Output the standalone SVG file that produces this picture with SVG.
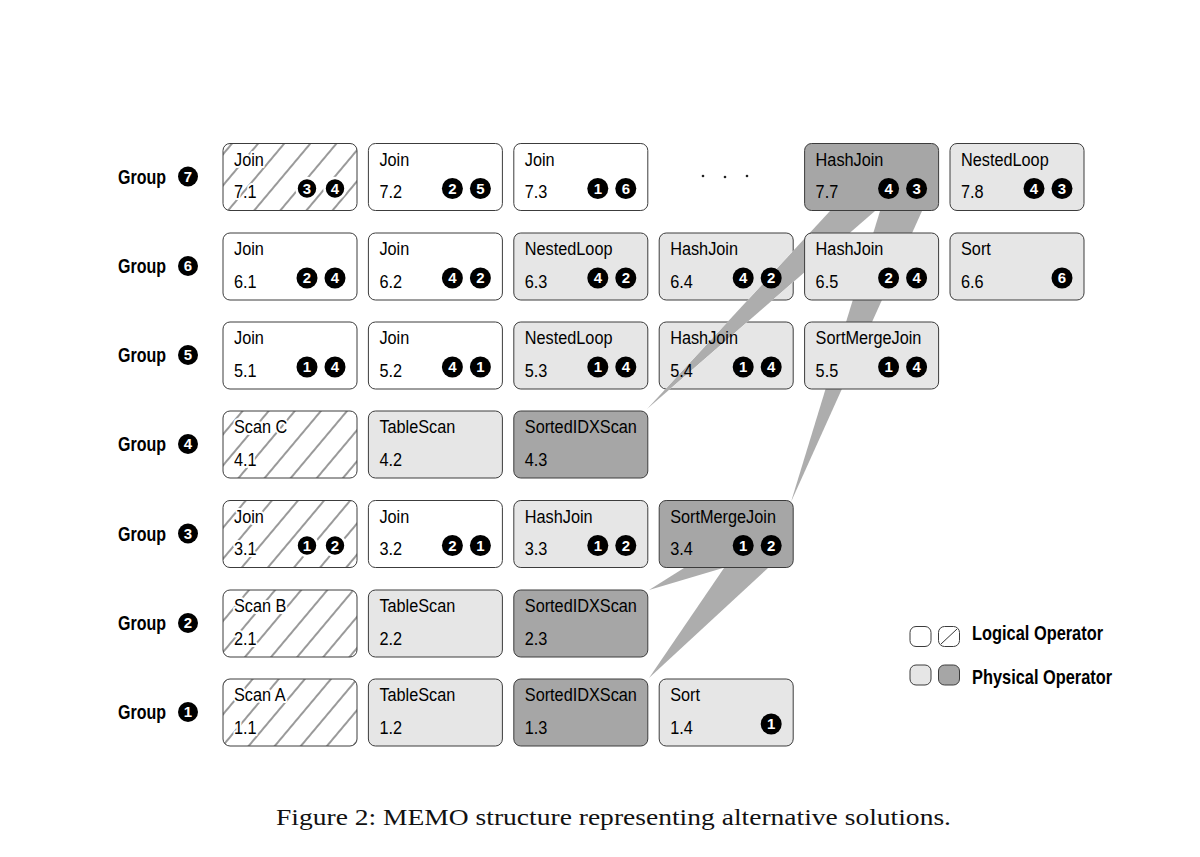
<svg xmlns="http://www.w3.org/2000/svg" width="1200" height="857" viewBox="0 0 1200 857">
<style>
.box{stroke:#3c3c3c;stroke-width:1}
.w{fill:#fff}.l{fill:#e6e6e6}.d{fill:#a6a6a6}.h{fill:url(#hatch)}
.lbl{font-family:"Liberation Sans",Arial,sans-serif;font-size:18.5px;fill:#000}
.halo{stroke:#fff;stroke-width:4px;paint-order:stroke;stroke-linejoin:round}
.bd circle{fill:#000}
.hb circle{stroke:#fff;stroke-width:2.5px}
.bd text{font-family:"Liberation Sans",Arial,sans-serif;font-weight:bold;font-size:15px;fill:#fff;text-anchor:middle}
.grp{font-family:"Liberation Sans",Arial,sans-serif;font-weight:bold;font-size:20px;fill:#000}
.wedge{fill:#adadad}
.dot{fill:#222}
.cap{font-family:"Liberation Serif","Times New Roman",serif;font-size:24px;fill:#111}
</style>
<defs>
<pattern id="hatch" patternUnits="userSpaceOnUse" width="20" height="20" patternTransform="rotate(40)">
<rect width="20" height="20" fill="#fff"/>
<line x1="10" y1="0" x2="10" y2="20" stroke="#000" stroke-width="0.8"/>
</pattern>
<mask id="hole1" maskUnits="userSpaceOnUse" x="0" y="0" width="1200" height="857">
<rect width="1200" height="857" fill="#fff"/>
<polygon points="830,211 875,211 647,409" fill="#000"/>
</mask>
</defs>
<rect width="1200" height="857" fill="#fff"/>

<g id="connectors">
<polygon class="wedge" points="830,211 875,211 647,409"/>
<polygon class="wedge" points="880,211 922,211 791,502"/>
<polygon class="wedge" points="684,568 723,568 649,590"/>
<polygon class="wedge" points="724,568 768,568 649,678"/>
</g>

<g id="group-labels">
<g id="g7"><text class="grp" transform="translate(118,183.5) scale(0.8,1)">Group</text><g class="bd"><circle cx="188" cy="176.5" r="10"/><text x="188" y="181.5">7</text></g></g>
<g id="g6"><text class="grp" transform="translate(118,273) scale(0.8,1)">Group</text><g class="bd"><circle cx="188" cy="266" r="10"/><text x="188" y="271">6</text></g></g>
<g id="g5"><text class="grp" transform="translate(118,362) scale(0.8,1)">Group</text><g class="bd"><circle cx="188" cy="355" r="10"/><text x="188" y="360">5</text></g></g>
<g id="g4"><text class="grp" transform="translate(118,451) scale(0.8,1)">Group</text><g class="bd"><circle cx="188" cy="444" r="10"/><text x="188" y="449">4</text></g></g>
<g id="g3"><text class="grp" transform="translate(118,540.5) scale(0.8,1)">Group</text><g class="bd"><circle cx="188" cy="533.5" r="10"/><text x="188" y="538.5">3</text></g></g>
<g id="g2"><text class="grp" transform="translate(118,630) scale(0.8,1)">Group</text><g class="bd"><circle cx="188" cy="623" r="10"/><text x="188" y="628">2</text></g></g>
<g id="g1"><text class="grp" transform="translate(118,719) scale(0.8,1)">Group</text><g class="bd"><circle cx="188" cy="712" r="10"/><text x="188" y="717">1</text></g></g>
</g>

<!-- Row 7 -->
<g id="n7-1"><rect class="box h" x="223" y="143.5" width="134" height="67" rx="7"/><text class="lbl halo" transform="translate(234,165.5) scale(0.88,1)">Join</text><text class="lbl halo" transform="translate(234,198) scale(0.88,1)">7.1</text><g class="bd hb"><circle cx="307" cy="188.5" r="10.5"/><text x="307" y="193.8">3</text><circle cx="335" cy="188.5" r="10.5"/><text x="335" y="193.8">4</text></g></g>
<g id="n7-2"><rect class="box w" x="368.4" y="143.5" width="134" height="67" rx="7"/><text class="lbl" transform="translate(379.4,165.5) scale(0.88,1)">Join</text><text class="lbl" transform="translate(379.4,198) scale(0.88,1)">7.2</text><g class="bd"><circle cx="452.4" cy="188.5" r="10.5"/><text x="452.4" y="193.8">2</text><circle cx="480.4" cy="188.5" r="10.5"/><text x="480.4" y="193.8">5</text></g></g>
<g id="n7-3"><rect class="box w" x="513.8" y="143.5" width="134" height="67" rx="7"/><text class="lbl" transform="translate(524.8,165.5) scale(0.88,1)">Join</text><text class="lbl" transform="translate(524.8,198) scale(0.88,1)">7.3</text><g class="bd"><circle cx="597.8" cy="188.5" r="10.5"/><text x="597.8" y="193.8">1</text><circle cx="625.8" cy="188.5" r="10.5"/><text x="625.8" y="193.8">6</text></g></g>
<g id="ellipsis"><circle class="dot" cx="703" cy="176" r="1.3"/><circle class="dot" cx="725" cy="177" r="1.3"/><circle class="dot" cx="747" cy="176" r="1.3"/></g>
<g id="n7-7"><rect class="box d" x="804.6" y="143.5" width="134" height="67" rx="7"/><text class="lbl" transform="translate(815.6,165.5) scale(0.88,1)">HashJoin</text><text class="lbl" transform="translate(815.6,198) scale(0.88,1)">7.7</text><g class="bd"><circle cx="888.6" cy="188.5" r="10.5"/><text x="888.6" y="193.8">4</text><circle cx="916.6" cy="188.5" r="10.5"/><text x="916.6" y="193.8">3</text></g></g>
<g id="n7-8"><rect class="box l" x="950" y="143.5" width="134" height="67" rx="7"/><text class="lbl" transform="translate(961,165.5) scale(0.88,1)">NestedLoop</text><text class="lbl" transform="translate(961,198) scale(0.88,1)">7.8</text><g class="bd"><circle cx="1034" cy="188.5" r="10.5"/><text x="1034" y="193.8">4</text><circle cx="1062" cy="188.5" r="10.5"/><text x="1062" y="193.8">3</text></g></g>

<!-- Row 6 -->
<g id="n6-1"><rect class="box w" x="223" y="233" width="134" height="67" rx="7"/><text class="lbl" transform="translate(234,255) scale(0.88,1)">Join</text><text class="lbl" transform="translate(234,287.5) scale(0.88,1)">6.1</text><g class="bd"><circle cx="307" cy="278" r="10.5"/><text x="307" y="283.3">2</text><circle cx="335" cy="278" r="10.5"/><text x="335" y="283.3">4</text></g></g>
<g id="n6-2"><rect class="box w" x="368.4" y="233" width="134" height="67" rx="7"/><text class="lbl" transform="translate(379.4,255) scale(0.88,1)">Join</text><text class="lbl" transform="translate(379.4,287.5) scale(0.88,1)">6.2</text><g class="bd"><circle cx="452.4" cy="278" r="10.5"/><text x="452.4" y="283.3">4</text><circle cx="480.4" cy="278" r="10.5"/><text x="480.4" y="283.3">2</text></g></g>
<g id="n6-3"><rect class="box l" x="513.8" y="233" width="134" height="67" rx="7"/><text class="lbl" transform="translate(524.8,255) scale(0.88,1)">NestedLoop</text><text class="lbl" transform="translate(524.8,287.5) scale(0.88,1)">6.3</text><g class="bd"><circle cx="597.8" cy="278" r="10.5"/><text x="597.8" y="283.3">4</text><circle cx="625.8" cy="278" r="10.5"/><text x="625.8" y="283.3">2</text></g></g>
<g id="n6-4"><rect class="box l" x="659.2" y="233" width="134" height="67" rx="7" mask="url(#hole1)"/><text class="lbl" transform="translate(670.2,255) scale(0.88,1)">HashJoin</text><text class="lbl" transform="translate(670.2,287.5) scale(0.88,1)">6.4</text><g class="bd"><circle cx="743.2" cy="278" r="10.5"/><text x="743.2" y="283.3">4</text><circle cx="771.2" cy="278" r="10.5"/><text x="771.2" y="283.3">2</text></g></g>
<g id="n6-5"><rect class="box l" x="804.6" y="233" width="134" height="67" rx="7"/><text class="lbl" transform="translate(815.6,255) scale(0.88,1)">HashJoin</text><text class="lbl" transform="translate(815.6,287.5) scale(0.88,1)">6.5</text><g class="bd"><circle cx="888.6" cy="278" r="10.5"/><text x="888.6" y="283.3">2</text><circle cx="916.6" cy="278" r="10.5"/><text x="916.6" y="283.3">4</text></g></g>
<g id="n6-6"><rect class="box l" x="950" y="233" width="134" height="67" rx="7"/><text class="lbl" transform="translate(961,255) scale(0.88,1)">Sort</text><text class="lbl" transform="translate(961,287.5) scale(0.88,1)">6.6</text><g class="bd"><circle cx="1062" cy="278" r="10.5"/><text x="1062" y="283.3">6</text></g></g>

<!-- Row 5 -->
<g id="n5-1"><rect class="box w" x="223" y="322" width="134" height="67" rx="7"/><text class="lbl" transform="translate(234,344) scale(0.88,1)">Join</text><text class="lbl" transform="translate(234,376.5) scale(0.88,1)">5.1</text><g class="bd"><circle cx="307" cy="367" r="10.5"/><text x="307" y="372.3">1</text><circle cx="335" cy="367" r="10.5"/><text x="335" y="372.3">4</text></g></g>
<g id="n5-2"><rect class="box w" x="368.4" y="322" width="134" height="67" rx="7"/><text class="lbl" transform="translate(379.4,344) scale(0.88,1)">Join</text><text class="lbl" transform="translate(379.4,376.5) scale(0.88,1)">5.2</text><g class="bd"><circle cx="452.4" cy="367" r="10.5"/><text x="452.4" y="372.3">4</text><circle cx="480.4" cy="367" r="10.5"/><text x="480.4" y="372.3">1</text></g></g>
<g id="n5-3"><rect class="box l" x="513.8" y="322" width="134" height="67" rx="7"/><text class="lbl" transform="translate(524.8,344) scale(0.88,1)">NestedLoop</text><text class="lbl" transform="translate(524.8,376.5) scale(0.88,1)">5.3</text><g class="bd"><circle cx="597.8" cy="367" r="10.5"/><text x="597.8" y="372.3">1</text><circle cx="625.8" cy="367" r="10.5"/><text x="625.8" y="372.3">4</text></g></g>
<g id="n5-4"><rect class="box l" x="659.2" y="322" width="134" height="67" rx="7" mask="url(#hole1)"/><text class="lbl" transform="translate(670.2,344) scale(0.88,1)">HashJoin</text><text class="lbl" transform="translate(670.2,376.5) scale(0.88,1)">5.4</text><g class="bd"><circle cx="743.2" cy="367" r="10.5"/><text x="743.2" y="372.3">1</text><circle cx="771.2" cy="367" r="10.5"/><text x="771.2" y="372.3">4</text></g></g>
<g id="n5-5"><rect class="box l" x="804.6" y="322" width="134" height="67" rx="7"/><text class="lbl" transform="translate(815.6,344) scale(0.88,1)">SortMergeJoin</text><text class="lbl" transform="translate(815.6,376.5) scale(0.88,1)">5.5</text><g class="bd"><circle cx="888.6" cy="367" r="10.5"/><text x="888.6" y="372.3">1</text><circle cx="916.6" cy="367" r="10.5"/><text x="916.6" y="372.3">4</text></g></g>

<!-- Row 4 -->
<g id="n4-1"><rect class="box h" x="223" y="411" width="134" height="67" rx="7"/><text class="lbl halo" transform="translate(234,433) scale(0.88,1)">Scan C</text><text class="lbl halo" transform="translate(234,465.5) scale(0.88,1)">4.1</text></g>
<g id="n4-2"><rect class="box l" x="368.4" y="411" width="134" height="67" rx="7"/><text class="lbl" transform="translate(379.4,433) scale(0.88,1)">TableScan</text><text class="lbl" transform="translate(379.4,465.5) scale(0.88,1)">4.2</text></g>
<g id="n4-3"><rect class="box d" x="513.8" y="411" width="134" height="67" rx="7"/><text class="lbl" transform="translate(524.8,433) scale(0.88,1)">SortedIDXScan</text><text class="lbl" transform="translate(524.8,465.5) scale(0.88,1)">4.3</text></g>

<!-- Row 3 -->
<g id="n3-1"><rect class="box h" x="223" y="500.5" width="134" height="67" rx="7"/><text class="lbl halo" transform="translate(234,522.5) scale(0.88,1)">Join</text><text class="lbl halo" transform="translate(234,555) scale(0.88,1)">3.1</text><g class="bd hb"><circle cx="307" cy="545.5" r="10.5"/><text x="307" y="550.8">1</text><circle cx="335" cy="545.5" r="10.5"/><text x="335" y="550.8">2</text></g></g>
<g id="n3-2"><rect class="box w" x="368.4" y="500.5" width="134" height="67" rx="7"/><text class="lbl" transform="translate(379.4,522.5) scale(0.88,1)">Join</text><text class="lbl" transform="translate(379.4,555) scale(0.88,1)">3.2</text><g class="bd"><circle cx="452.4" cy="545.5" r="10.5"/><text x="452.4" y="550.8">2</text><circle cx="480.4" cy="545.5" r="10.5"/><text x="480.4" y="550.8">1</text></g></g>
<g id="n3-3"><rect class="box l" x="513.8" y="500.5" width="134" height="67" rx="7"/><text class="lbl" transform="translate(524.8,522.5) scale(0.88,1)">HashJoin</text><text class="lbl" transform="translate(524.8,555) scale(0.88,1)">3.3</text><g class="bd"><circle cx="597.8" cy="545.5" r="10.5"/><text x="597.8" y="550.8">1</text><circle cx="625.8" cy="545.5" r="10.5"/><text x="625.8" y="550.8">2</text></g></g>
<g id="n3-4"><rect class="box d" x="659.2" y="500.5" width="134" height="67" rx="7"/><text class="lbl" transform="translate(670.2,522.5) scale(0.88,1)">SortMergeJoin</text><text class="lbl" transform="translate(670.2,555) scale(0.88,1)">3.4</text><g class="bd"><circle cx="743.2" cy="545.5" r="10.5"/><text x="743.2" y="550.8">1</text><circle cx="771.2" cy="545.5" r="10.5"/><text x="771.2" y="550.8">2</text></g></g>

<!-- Row 2 -->
<g id="n2-1"><rect class="box h" x="223" y="590" width="134" height="67" rx="7"/><text class="lbl halo" transform="translate(234,612) scale(0.88,1)">Scan B</text><text class="lbl halo" transform="translate(234,644.5) scale(0.88,1)">2.1</text></g>
<g id="n2-2"><rect class="box l" x="368.4" y="590" width="134" height="67" rx="7"/><text class="lbl" transform="translate(379.4,612) scale(0.88,1)">TableScan</text><text class="lbl" transform="translate(379.4,644.5) scale(0.88,1)">2.2</text></g>
<g id="n2-3"><rect class="box d" x="513.8" y="590" width="134" height="67" rx="7"/><text class="lbl" transform="translate(524.8,612) scale(0.88,1)">SortedIDXScan</text><text class="lbl" transform="translate(524.8,644.5) scale(0.88,1)">2.3</text></g>

<!-- Row 1 -->
<g id="n1-1"><rect class="box h" x="223" y="679" width="134" height="67" rx="7"/><text class="lbl halo" transform="translate(234,701) scale(0.88,1)">Scan A</text><text class="lbl halo" transform="translate(234,733.5) scale(0.88,1)">1.1</text></g>
<g id="n1-2"><rect class="box l" x="368.4" y="679" width="134" height="67" rx="7"/><text class="lbl" transform="translate(379.4,701) scale(0.88,1)">TableScan</text><text class="lbl" transform="translate(379.4,733.5) scale(0.88,1)">1.2</text></g>
<g id="n1-3"><rect class="box d" x="513.8" y="679" width="134" height="67" rx="7"/><text class="lbl" transform="translate(524.8,701) scale(0.88,1)">SortedIDXScan</text><text class="lbl" transform="translate(524.8,733.5) scale(0.88,1)">1.3</text></g>
<g id="n1-4"><rect class="box l" x="659.2" y="679" width="134" height="67" rx="7"/><text class="lbl" transform="translate(670.2,701) scale(0.88,1)">Sort</text><text class="lbl" transform="translate(670.2,733.5) scale(0.88,1)">1.4</text><g class="bd"><circle cx="771.2" cy="724" r="10.5"/><text x="771.2" y="729.3">1</text></g></g>

<!-- Legend -->
<g id="legend">
<rect class="box w" x="910" y="626.5" width="21" height="20" rx="6"/>
<rect class="box w" x="938.5" y="626.5" width="21" height="20" rx="6"/>
<line x1="941" y1="644" x2="957" y2="629" stroke="#000" stroke-width="0.8"/>
<text class="grp" transform="translate(972,639.5) scale(0.82,1)">Logical Operator</text>
<rect class="box l" x="910" y="665" width="21" height="20" rx="6"/>
<rect class="box d" x="938.5" y="665" width="21" height="20" rx="6"/>
<text class="grp" transform="translate(972,684) scale(0.82,1)">Physical Operator</text>
</g>

<text class="cap" x="276" y="825" textLength="675" lengthAdjust="spacingAndGlyphs">Figure 2: MEMO structure representing alternative solutions.</text>
</svg>
